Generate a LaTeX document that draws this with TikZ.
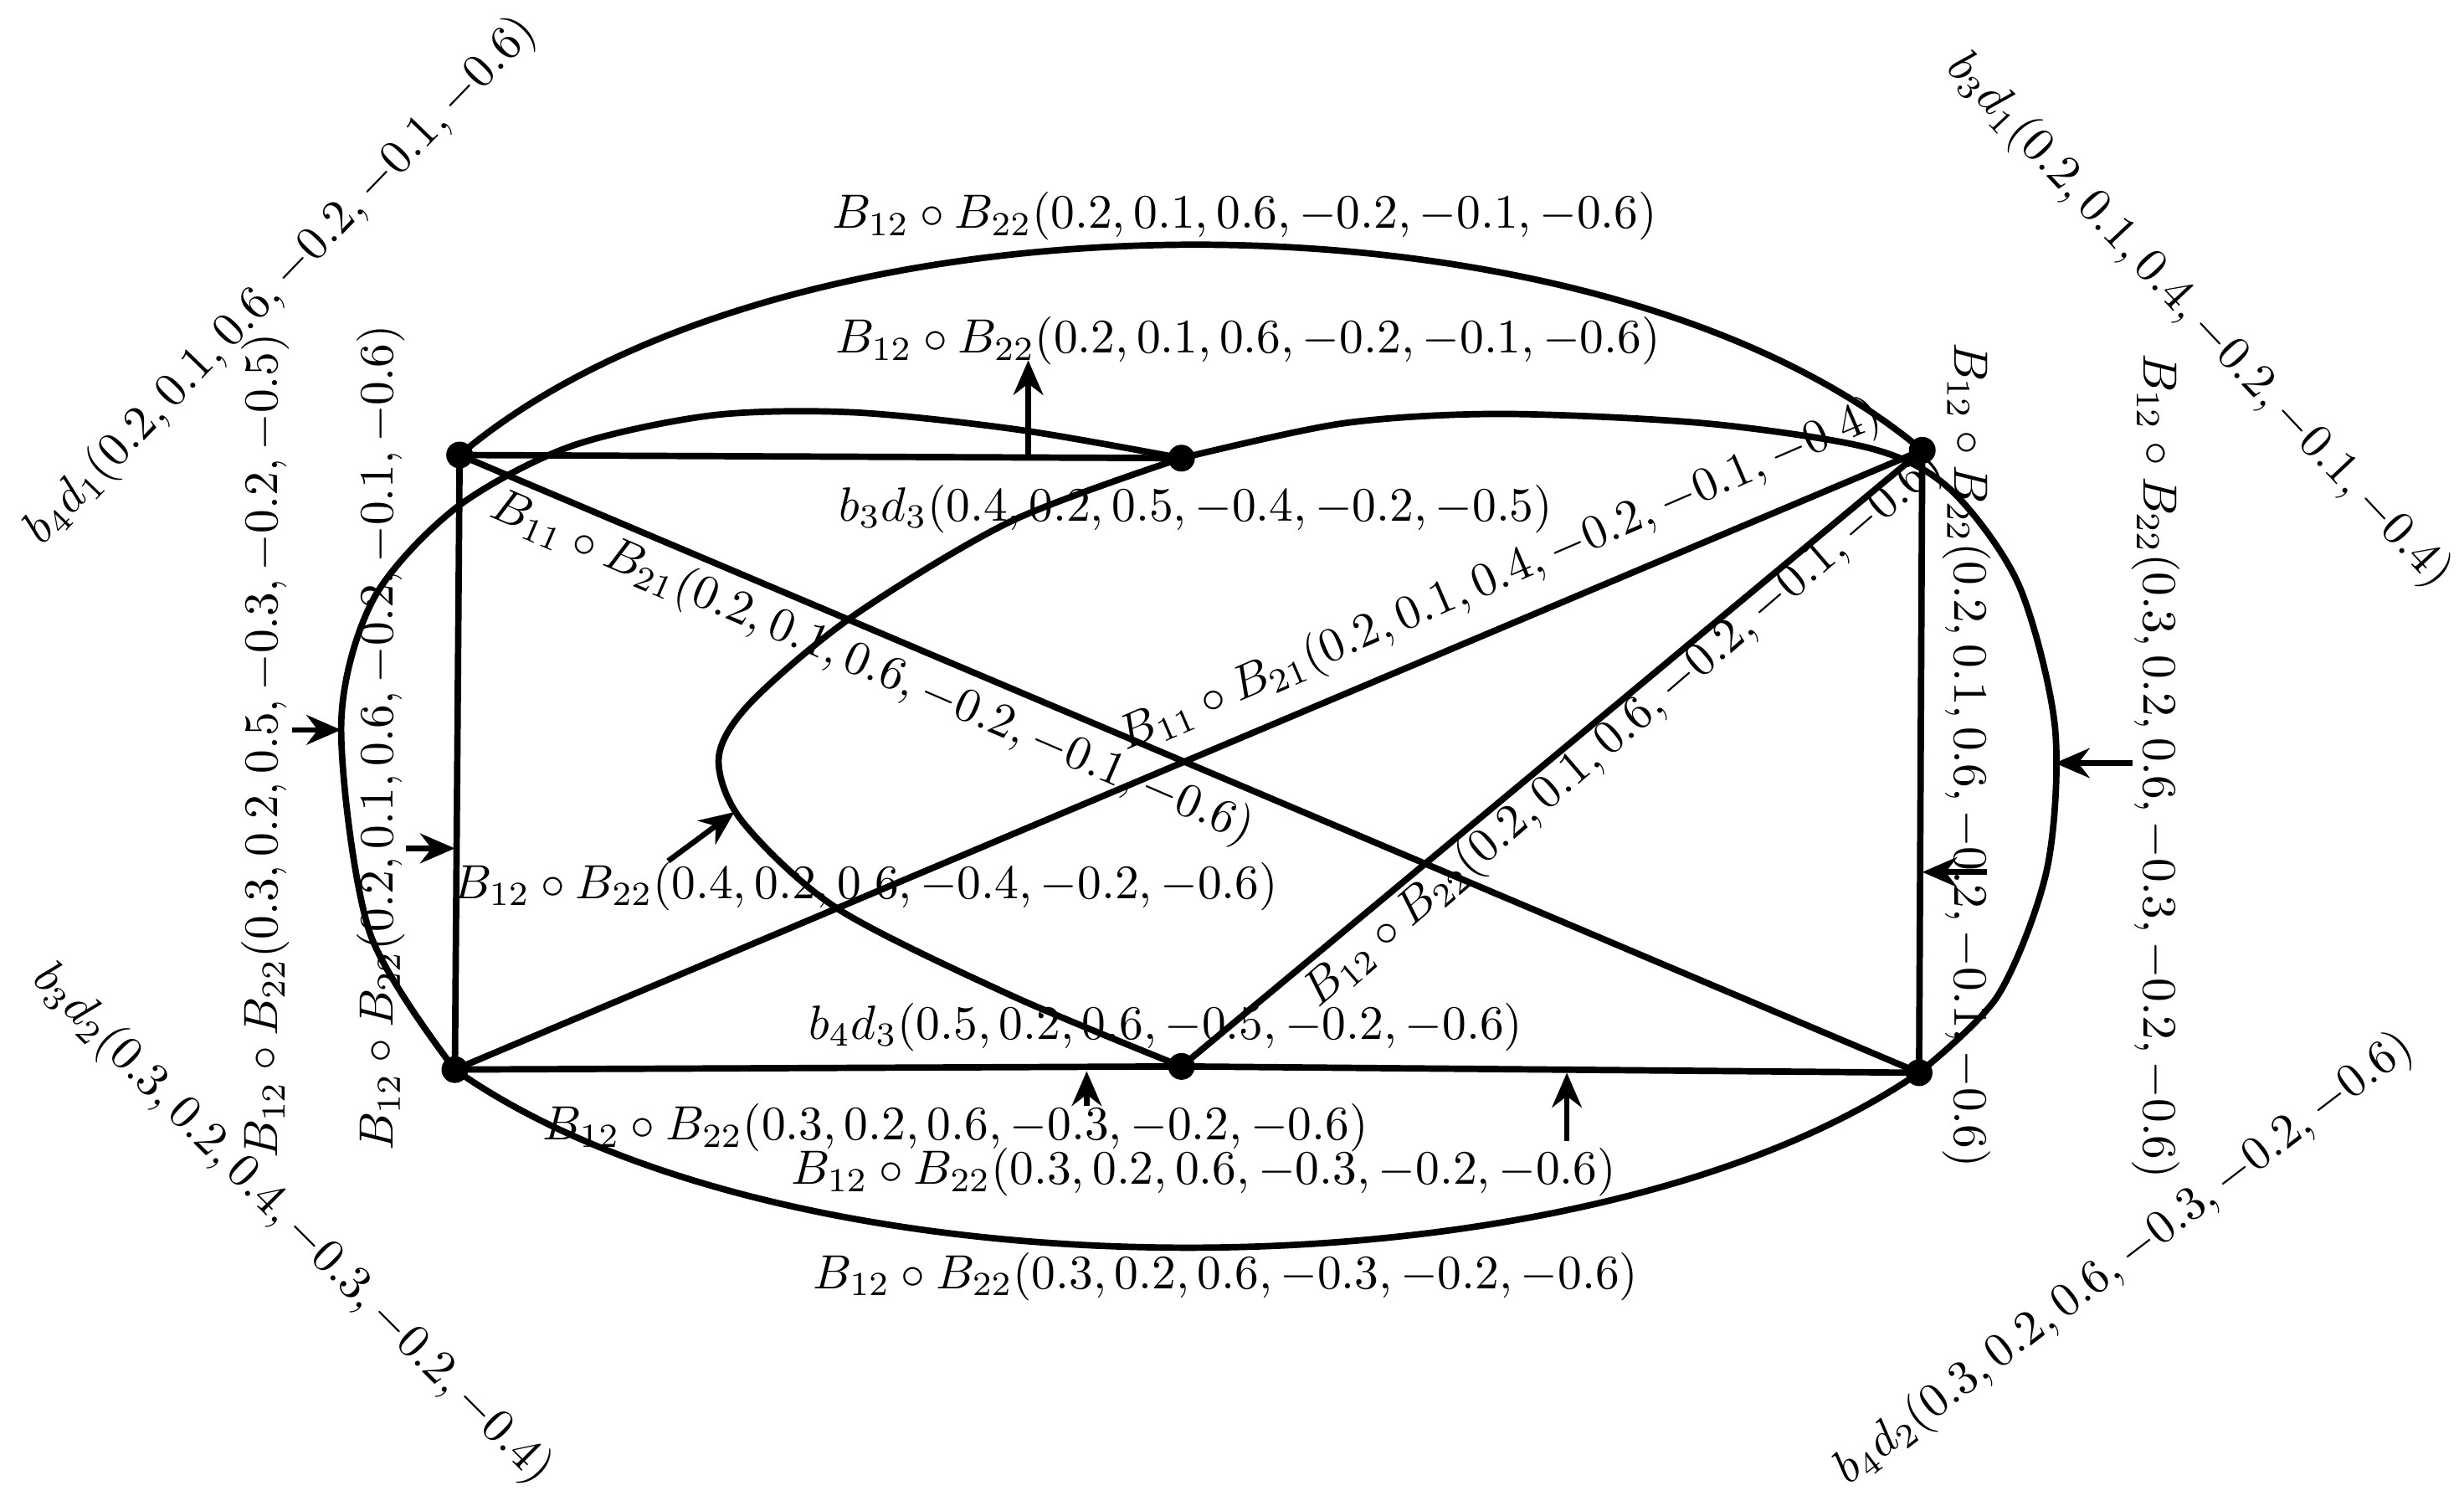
\documentclass[tikz,border=0pt]{standalone}
\usetikzlibrary{arrows.meta}
\begin{document}
\begin{tikzpicture}[x=0.0112cm,y=-0.0112cm,
  dot/.style={circle,fill=black,inner sep=0pt,minimum size=0.19cm},
  edge/.style={line width=1.3pt},
  arr/.style={line width=1.1pt,-{Stealth[length=7pt,width=6pt]}},
  lbl/.style={inner sep=0pt,scale=0.97}]
\useasboundingbox (0,0) rectangle (1560,950);
\node[dot] (A) at (291,288) {};
\node[dot] (B) at (748,290) {};
\node[dot] (C) at (1217,285) {};
\node[dot] (D) at (288,677) {};
\node[dot] (E) at (748,675) {};
\node[dot] (F) at (1215,679) {};
% edges
\draw[edge] (A.center) -- (B.center);
\draw[edge] (A.center) -- (D.center);
\draw[edge] (A.center) -- (F.center);
\draw[edge] (D.center) -- (C.center);
\draw[edge] (E.center) -- (C.center);
\draw[edge] (D.center) -- (E.center) -- (F.center);
\draw[edge] (C.center) -- (F.center);
% curves
\draw[edge] (A.center) .. controls (500,111) and (1010,111) .. (C.center);
\draw[edge] (D.center) .. controls (500,827) and (1000,827) .. (F.center);
\draw[edge] plot[smooth] coordinates {(288,677) (234,590) (216,460) (236,380) (288,322) (360,283) (450,263) (540,261) (645,272) (748,290)};
\draw[edge] plot[smooth] coordinates {(748,290) (850,268) (950,262) (1080,268) (1185,284) (1235,310) (1278,370) (1301,460) (1296,550) (1265,630) (1215,679)};
\draw[edge] plot[smooth] coordinates {(748,290) (640,330) (540,390) (475,445) (455,480) (470,520) (530,575) (640,630) (748,675)};
% arrows
\coordinate (a1s) at (651,288); \coordinate (a1e) at (651,228);
\draw[arr] (a1s) -- (a1e);
\coordinate (a2s) at (688,700); \coordinate (a2e) at (688,678);
\draw[arr] (a2s) -- (a2e);
\coordinate (a3s) at (992,722); \coordinate (a3e) at (992,679);
\draw[arr] (a3s) -- (a3e);
\coordinate (a4s) at (423,545); \coordinate (a4e) at (465,514);
\draw[arr] (a4s) -- (a4e);
\coordinate (a5s) at (257,537); \coordinate (a5e) at (288,537);
\draw[arr] (a5s) -- (a5e);
\coordinate (a6s) at (185,462); \coordinate (a6e) at (216,462);
\draw[arr] (a6s) -- (a6e);
\coordinate (a7s) at (1258,552); \coordinate (a7e) at (1217,552);
\draw[arr] (a7s) -- (a7e);
\coordinate (a8s) at (1350,483); \coordinate (a8e) at (1301,483);
\draw[arr] (a8s) -- (a8e);
% labels
\node[lbl] (l1) at (788,137) {$B_{12}\circ B_{22}(0.2,0.1,0.6,-0.2,-0.1,-0.6)$};
\node[lbl] (l2) at (790,216) {$B_{12}\circ B_{22}(0.2,0.1,0.6,-0.2,-0.1,-0.6)$};
\node[lbl] (l3) at (757,322) {$b_3d_3(0.4,0.2,0.5,-0.4,-0.2,-0.5)$};
\node[lbl] (l4) at (738,650) {$b_4d_3(0.5,0.2,0.6,-0.5,-0.2,-0.6)$};
\node[lbl] (l5) at (605,714) {$B_{12}\circ B_{22}(0.3,0.2,0.6,-0.3,-0.2,-0.6)$};
\node[lbl] (l6) at (762,742) {$B_{12}\circ B_{22}(0.3,0.2,0.6,-0.3,-0.2,-0.6)$};
\node[lbl] (l7) at (776,808) {$B_{12}\circ B_{22}(0.3,0.2,0.6,-0.3,-0.2,-0.6)$};
\node[lbl] (l8) at (548,561) {$B_{12}\circ B_{22}(0.4,0.2,0.6,-0.4,-0.2,-0.6)$};
\node[lbl,rotate=90] (l9) at (241,467) {$B_{12}\circ B_{22}(0.2,0.1,0.6,-0.2,-0.1,-0.6)$};
\node[lbl,rotate=90] (l10) at (168,472) {$B_{12}\circ B_{22}(0.3,0.2,0.5,-0.3,-0.2,-0.5)$};
\node[lbl,rotate=-90] (l11) at (1245,478) {$B_{12}\circ B_{22}(0.2,0.1,0.6,-0.2,-0.1,-0.6)$};
\node[lbl,rotate=-90] (l12) at (1365,485) {$B_{12}\circ B_{22}(0.3,0.2,0.6,-0.3,-0.2,-0.6)$};
\node[lbl,rotate=-23.3] (l13) at (552,423) {$B_{11}\circ B_{21}(0.2,0.1,0.6,-0.2,-0.1,-0.6)$};
\node[lbl,rotate=23.3] (l14) at (950,365) {$B_{11}\circ B_{21}(0.2,0.1,0.4,-0.2,-0.1,-0.4)$};
\node[lbl,rotate=40.7] (l15) at (1028,462) {$B_{12}\circ B_{22}(0.2,0.1,0.6,-0.2,-0.1,-0.6)$};
\node[lbl,rotate=46] (l16) at (178,178) {$b_4d_1(0.2,0.1,0.6,-0.2,-0.1,-0.6)$};
\node[lbl,rotate=-46.8] (l17) at (1392,203) {$b_3d_1(0.2,0.1,0.4,-0.2,-0.1,-0.4)$};
\node[lbl,rotate=-45] (l18) at (185,775) {$b_3d_2(0.3,0.2,0.4,-0.3,-0.2,-0.4)$};
\node[lbl,rotate=37.4] (l19) at (1345,797) {$b_4d_2(0.3,0.2,0.6,-0.3,-0.2,-0.6)$};
\end{tikzpicture}
\end{document}
